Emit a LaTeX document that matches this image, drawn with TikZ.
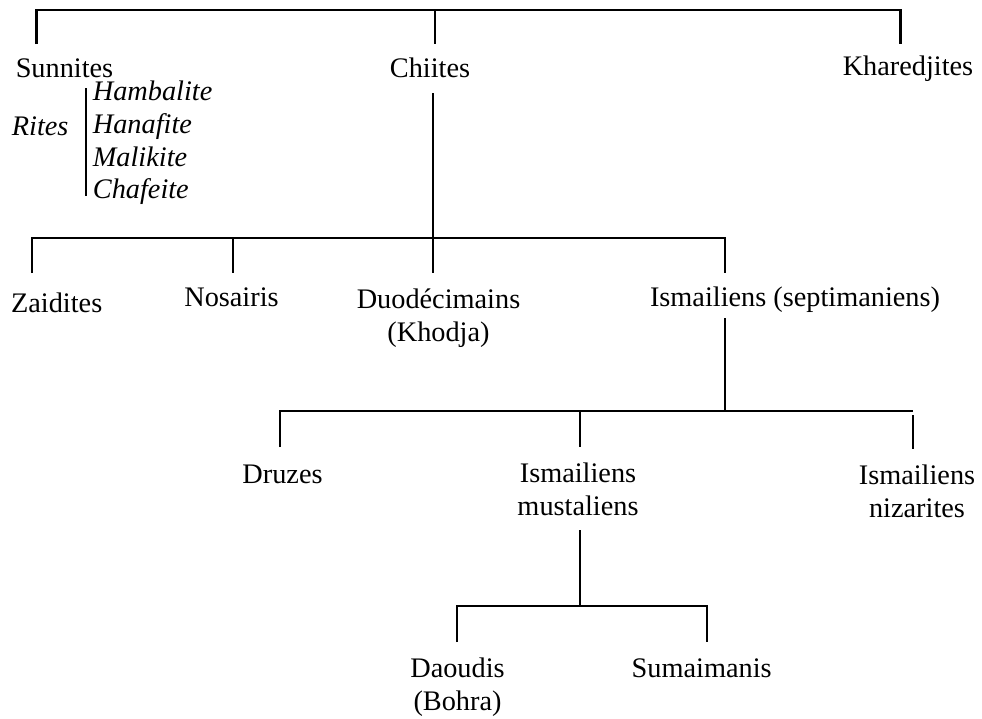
\documentclass[tikz,border=0pt]{standalone}
\usepackage{fontspec}
\setmainfont{Liberation Serif}
\begin{document}
\begin{tikzpicture}[x=1pt,y=-1pt,
  lbl/.style={font=\fontsize{28.3}{33}\selectfont, inner sep=0pt, align=center, anchor=base},
  itl/.style={font=\fontsize{28.3}{33}\selectfont\itshape, inner sep=0pt, anchor=base west},
  conn/.style={line width=2.6pt}]
\useasboundingbox (0,0) rectangle (982,718);

% level 0
\node[lbl] (sun) at (64.5,77) {Sunnites};
\node[lbl] (chi) at (430,77) {Chiites};
\node[lbl] (kha) at (908,75) {Kharedjites};
\coordinate (top) at (435,10);
\coordinate (sunT) at (36.7,44);
\coordinate (chiT) at (435,44);
\coordinate (khaT) at (900.7,44);
\draw[conn] (sunT) |- (top) -| (khaT);
\draw[conn] (top) -- (chiT);

% rites
\node[itl] (rites) at (11.7,135) {Rites};
\node[itl] (ham) at (92.7,100) {Hambalite};
\node[itl] (han) at (92.7,133) {Hanafite};
\node[itl] (mal) at (92.7,166.5) {Malikite};
\node[itl] (cha) at (92.7,198.5) {Chafeite};
\coordinate (brT) at (86,88);
\coordinate (brB) at (86,196);
\draw[conn] (brT) -- (brB);

% level 1
\coordinate (chiB) at (433,93);
\coordinate (h1) at (433,238);
\coordinate (zaiT) at (32,273);
\coordinate (nosT) at (233,273);
\coordinate (duoT) at (433,273);
\coordinate (ismT) at (725,273);
\coordinate (nosH) at (233,238);
\draw[conn] (chiB) -- (duoT);
\draw[conn] (zaiT) |- (h1) -| (ismT);
\draw[conn] (nosH) -- (nosT);

\node[lbl] (zai) at (56.7,312) {Zaidites};
\node[lbl] (nos) at (231.5,306.7) {Nosairis};
\node[lbl] (duo) at (438.5,341.5) {Duodécimains\\(Khodja)};
\node[lbl] (ism) at (795,306.7) {Ismailiens (septimaniens)};

% level 2
\coordinate (ismB) at (725,318);
\coordinate (h2) at (725,411);
\coordinate (druT) at (280,447);
\coordinate (musT) at (580,447);
\coordinate (musH) at (580,411);
\coordinate (nizH) at (913,411);
\coordinate (nizA) at (913,415);
\coordinate (nizT) at (913,449);
\draw[conn] (ismB) -- (h2);
\draw[conn] (druT) |- (nizH);
\draw[conn] (musH) -- (musT);
\draw[conn] (nizA) -- (nizT);

\node[lbl] (dru) at (282.5,483) {Druzes};
\node[lbl] (mus) at (578,515) {Ismailiens\\mustaliens};
\node[lbl] (niz) at (917,517.5) {Ismailiens\\nizarites};

% level 3
\coordinate (musB) at (580,530);
\coordinate (h3) at (580,606);
\coordinate (daoT) at (457,642);
\coordinate (sumT) at (707,642);
\draw[conn] (musB) -- (h3);
\draw[conn] (daoT) |- (h3) -| (sumT);

\node[lbl] (dao) at (457.5,710.5) {Daoudis\\(Bohra)};
\node[lbl] (sum) at (701.7,677.5) {Sumaimanis};
\end{tikzpicture}
\end{document}
